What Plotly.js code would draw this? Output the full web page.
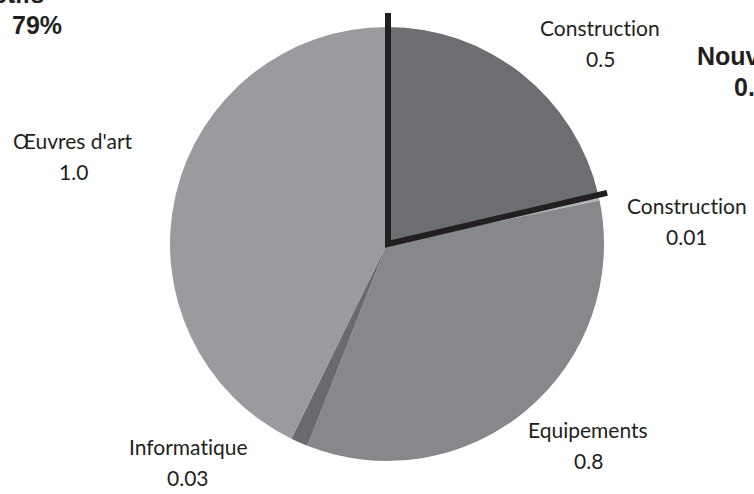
<!DOCTYPE html>
<html><head><meta charset="utf-8">
<script src="https://cdn.plot.ly/plotly-3.0.1.min.js"></script>
<style>html,body{margin:0;padding:0;background:#fff;overflow:hidden}#chart{width:754px;height:494px;}
text{font-variant-ligatures:none;font-feature-settings:"liga" 0;}</style>
</head><body><div id="chart"></div>
<script>
// ---- data ----
const categories = ["Construction", "Construction", "Equipements", "Informatique", "Œuvres d'art"];
const values = [0.5, 0.01, 0.8, 0.03, 1.0];
const valueLabels = ["0.5", "0.01", "0.8", "0.03", "1.0"];
const groupNames = ["Nouveaux actifs", "Anciens actifs"];
const groupValues = ["0.5", "79%"];

// ---- styles / positions ----
const sliceColors = ["#6d6e71", "#b4b5b7", "#87888b", "#696a6d", "#9a9b9e"];
const W = 754, H = 494;
const cx = 387, cy = 244, R = 217;            // pie centre / radius in px
const labelPos = [[600, 27, 59], [687, 205, 237], [588, 429, 460], [188, 446, 477], [73, 140, 171]];
const px = x => x / W, py = y => 1 - y / H;

const trace = {
  type: "pie",
  labels: categories.map((c, i) => c + " " + valueLabels[i]),
  values: values,
  sort: false,
  direction: "clockwise",
  rotation: 0,
  textinfo: "none",
  hoverinfo: "label+value",
  marker: { colors: sliceColors, line: { width: 0 } },
  domain: { x: [px(cx - R), px(cx + R)], y: [1 - (cy + R) / H, 1 - (cy - R) / H] },
  showlegend: false
};

const annotations = [];
const lblFont = { family: "Lato, 'Open Sans', sans-serif", size: 21, color: "#231f20" };
categories.forEach((c, i) => {
  const p = labelPos[i];
  annotations.push({ xref: "paper", yref: "paper", x: px(p[0]), y: py(p[1]), text: c, showarrow: false, xanchor: "center", yanchor: "middle", font: lblFont });
  annotations.push({ xref: "paper", yref: "paper", x: px(p[0]), y: py(p[2]), text: valueLabels[i], showarrow: false, xanchor: "center", yanchor: "middle", font: lblFont });
});
const boldFont = { family: "'Liberation Sans', Arial, sans-serif", size: 25, color: "#231f20", weight: "bold" };
annotations.push({ xref: "paper", yref: "paper", x: px(695), y: py(56), text: "<b>" + groupNames[0] + "</b>", showarrow: false, xanchor: "left", yanchor: "middle", font: boldFont });
annotations.push({ xref: "paper", yref: "paper", x: px(732), y: py(87), text: "<b>" + groupValues[0] + "</b>", showarrow: false, xanchor: "left", yanchor: "middle", font: boldFont });
annotations.push({ xref: "paper", yref: "paper", x: px(47), y: py(-6), text: "<b>" + groupNames[1] + "</b>", showarrow: false, xanchor: "right", yanchor: "middle", font: boldFont });
annotations.push({ xref: "paper", yref: "paper", x: px(37), y: py(25), text: "<b>" + groupValues[1] + "</b>", showarrow: false, xanchor: "center", yanchor: "middle", font: boldFont });

// separator between the new-asset slice and the rest, from the data
const total = values.reduce((a, b) => a + b, 0);
const theta = 2 * Math.PI * values[0] / total;
const L1 = R + 14, L2 = R + 9;
const path = "M " + px(cx + 1) + "," + py(cy - L1) +
  " L " + px(cx + 1) + "," + py(cy) +
  " L " + px(cx + L2 * Math.sin(theta)) + "," + py(cy - L2 * Math.cos(theta));

const layout = {
  width: W, height: H,
  margin: { l: 0, r: 0, t: 0, b: 0 },
  paper_bgcolor: "#ffffff",
  showlegend: false,
  annotations: annotations,
  shapes: [{ type: "path", xref: "paper", yref: "paper", path: path, line: { color: "#231f20", width: 6 } }]
};

Plotly.newPlot("chart", [trace], layout, { staticPlot: true, displayModeBar: false });
</script>
</body></html>
